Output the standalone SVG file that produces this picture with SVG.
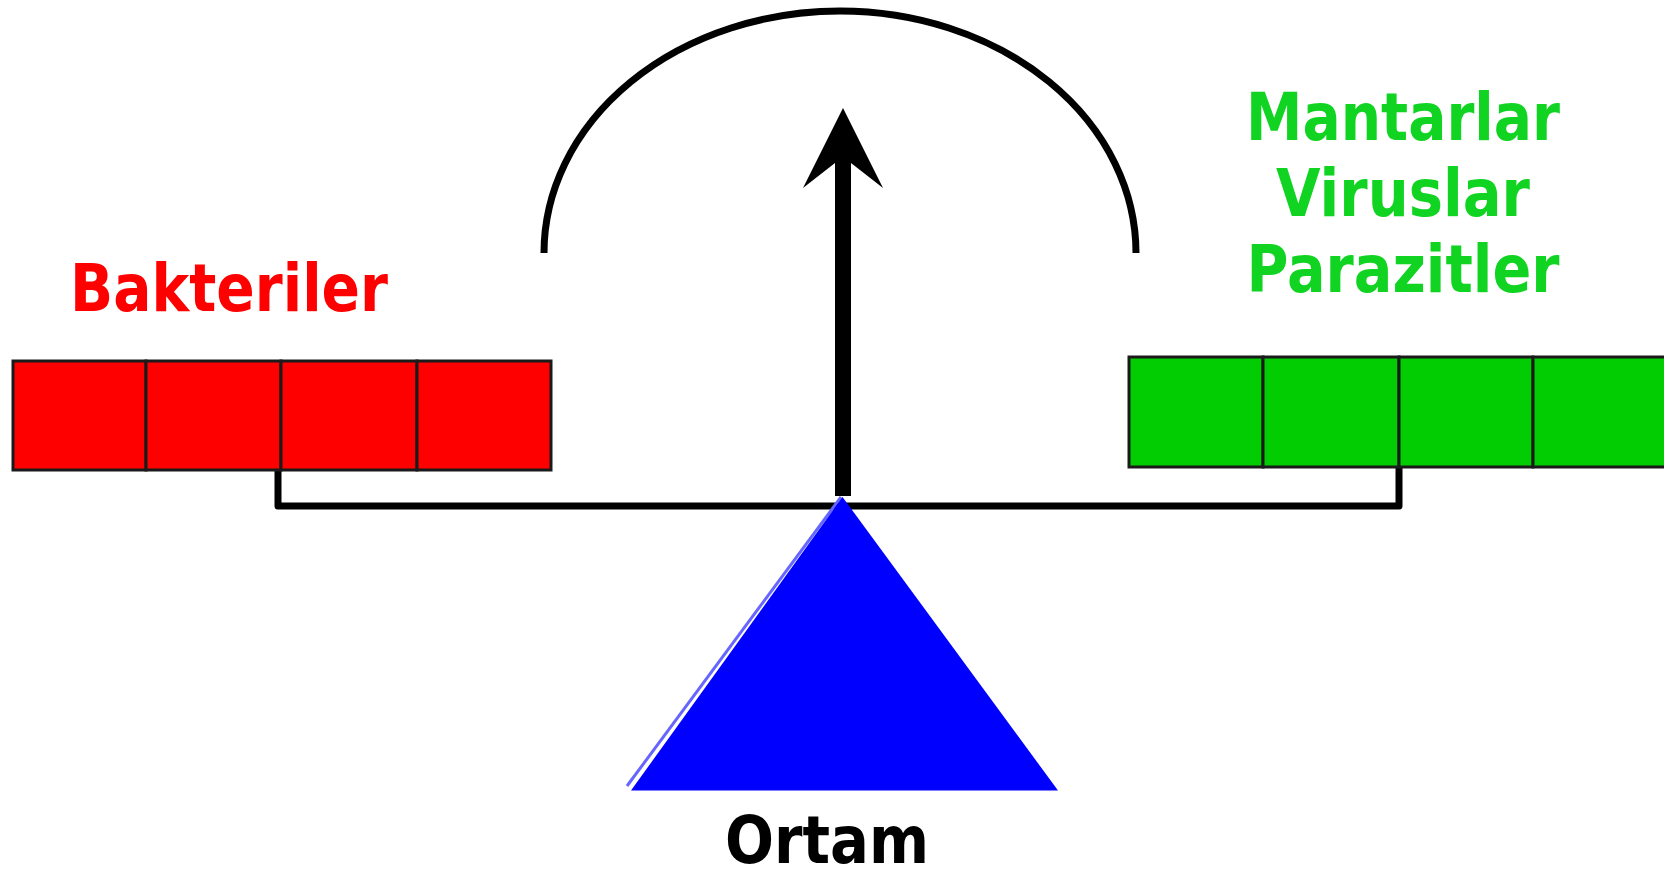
<svg xmlns="http://www.w3.org/2000/svg" width="1664" height="872" viewBox="0 0 1664 872">
<style>
.lbl{font-family:"DejaVu Sans","Liberation Sans",sans-serif;font-weight:bold;font-size:65px}
.red{fill:#ff0000;stroke:#1a1a1a;stroke-width:3}
.grn{fill:#02cc02;stroke:#1a1a1a;stroke-width:3}
.ln{fill:none;stroke:#000;stroke-linejoin:round;stroke-linecap:butt}
</style>
<rect width="1664" height="872" fill="#fff"/>
<g id="connectors">
<path class="ln" d="M544,253 A296,242 0 0 1 1136,253" stroke-width="7"/>
<path class="ln" d="M278,470 V506 H1399 V467" stroke-width="7"/>
<line x1="843" y1="496" x2="843" y2="150" stroke="#000" stroke-width="16"/>
<polygon points="843,108 883,188 851,163 835,163 803,188" fill="#000"/>
</g>
<g id="left-pan">
<rect class="red" x="13" y="361" width="133" height="109"/>
<rect class="red" x="146" y="361" width="135" height="109"/>
<rect class="red" x="281" y="361" width="136" height="109"/>
<rect class="red" x="417" y="361" width="134" height="109"/>
<text class="lbl" x="70" y="311" fill="#ff0000" textLength="318" lengthAdjust="spacingAndGlyphs">Bakteriler</text>
</g>
<g id="right-pan">
<rect class="grn" x="1129" y="357" width="134" height="110"/>
<rect class="grn" x="1263" y="357" width="136" height="110"/>
<rect class="grn" x="1399" y="357" width="134" height="110"/>
<rect class="grn" x="1533" y="357" width="135" height="110"/>
<g fill="#10d421" text-anchor="middle">
<text class="lbl" x="1403" y="140" textLength="314" lengthAdjust="spacingAndGlyphs">Mantarlar</text>
<text class="lbl" x="1403" y="216" textLength="254" lengthAdjust="spacingAndGlyphs">Viruslar</text>
<text class="lbl" x="1403" y="292" textLength="313" lengthAdjust="spacingAndGlyphs">Parazitler</text>
</g>
</g>
<g id="fulcrum">
<line x1="841" y1="497" x2="627" y2="786" stroke="#6666ff" stroke-width="3"/>
<polygon points="842.5,497 1058,790.5 631,790.5" fill="#0000ff"/>
<text class="lbl" x="827" y="863" text-anchor="middle" fill="#000" textLength="204" lengthAdjust="spacingAndGlyphs">Ortam</text>
</g>
</svg>
